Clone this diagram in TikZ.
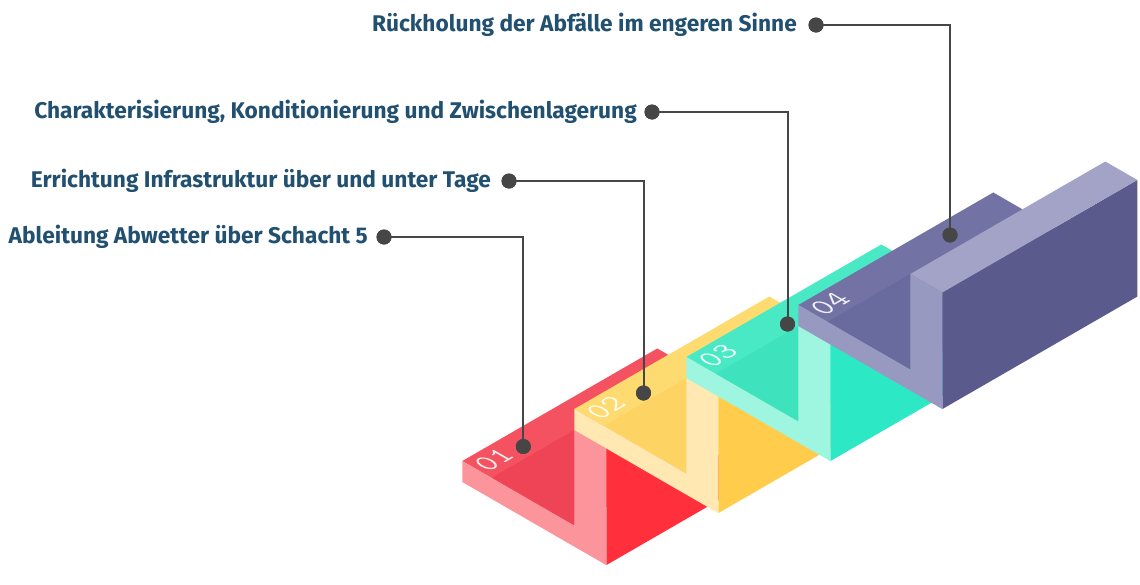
\documentclass[tikz,border=0pt]{standalone}
\usepackage{fontspec}
\setmainfont{Fira Sans}
\definecolor{lblblue}{RGB}{33,80,112}
\definecolor{dotgray}{RGB}{70,70,70}
\definecolor{rFront}{RGB}{252,148,156}
\definecolor{rTop}{RGB}{245,82,97}
\definecolor{rShade}{RGB}{239,68,86}
\definecolor{rSide}{RGB}{255,48,60}
\definecolor{rWall}{RGB}{250,110,120}
\definecolor{yFront}{RGB}{255,232,178}
\definecolor{yTop}{RGB}{254,219,112}
\definecolor{yShade}{RGB}{253,212,100}
\definecolor{ySide}{RGB}{255,205,75}
\definecolor{yWall}{RGB}{255,225,150}
\definecolor{tFront}{RGB}{158,246,224}
\definecolor{tTop}{RGB}{74,233,197}
\definecolor{tShade}{RGB}{62,227,190}
\definecolor{tSide}{RGB}{45,232,196}
\definecolor{tWall}{RGB}{130,240,215}
\definecolor{pFront}{RGB}{152,153,192}
\definecolor{pTop}{RGB}{114,115,164}
\definecolor{pShade}{RGB}{105,106,157}
\definecolor{pSide}{RGB}{90,91,140}
\definecolor{pWall}{RGB}{162,163,198}
\newcommand\isostep[7]{%
\begin{scope}[shift={(#1pt,-#2pt)}, x={(1pt,-0.577pt)}, y={(1pt,0.577pt)}, z={(0pt,1pt)}]
 \fill[#4] (0,0,21) -- (112,0,21) -- (112,195,21) -- (0,195,21) -- cycle;
 \fill[#5] (29.2,0,21) -- (112,0,21) -- (112,0,116.6) -- cycle;
 \fill[#6] (144,0,0) -- (144,195,0) -- (144,195,116.6) -- (144,0,116.6) -- cycle;
 \fill[#7] (112,0,116.6) -- (144,0,116.6) -- (144,195,116.6) -- (112,195,116.6) -- cycle;
 \fill[#3] (0,0,0) -- (144,0,0) -- (144,0,116.6) -- (112,0,116.6) -- (112,0,21) -- (0,0,21) -- cycle;
\end{scope}}
\begin{document}
\begin{tikzpicture}[x=1pt,y=-1pt,
  lbl/.style={font=\fontsize{22.7}{27}\selectfont\bfseries, text=lblblue, inner sep=0pt, anchor=mid east, yshift=-3.5pt},
  dotn/.style={circle, fill=dotgray, minimum size=15pt, inner sep=0pt},
  conn/.style={draw=dotgray, line width=2pt},
  num/.style={font=\fontsize{31}{31}\selectfont\ttfamily, text=white, text opacity=0.9, inner sep=0pt, anchor=base west, cm={0.866,0.5,-0.866,0.5,(0,0)}}]
\fill[white] (0,0) rectangle (1140,584);
\useasboundingbox (0,0) rectangle (1140,584);
\isostep{462.3}{482}{rFront}{rTop}{rShade}{rSide}{rWall}
\isostep{574.3}{430}{yFront}{yTop}{yShade}{ySide}{yWall}
\isostep{686.3}{378}{tFront}{tTop}{tShade}{tSide}{tWall}
\isostep{798.3}{326}{pFront}{pTop}{pShade}{pSide}{pWall}
\node[num] (n1) at (488,473) {01};
\node[num] (n2) at (600,421) {02};
\node[num] (n3) at (712,369) {03};
\node[num] (n4) at (824,317) {04};
% label dots
\node[dotn] (a1) at (816,25) {};
\node[dotn] (a2) at (652,112) {};
\node[dotn] (a3) at (509,181) {};
\node[dotn] (a4) at (384,237) {};
% tread dots
\node[dotn] (b1) at (950,235) {};
\node[dotn] (b2) at (787.5,324) {};
\node[dotn] (b3) at (643.5,393) {};
\node[dotn] (b4) at (523.3,446.5) {};
\draw[conn] (a1.center) -| (b1.center);
\draw[conn] (a2.center) -| (b2.center);
\draw[conn] (a3.center) -| (b3.center);
\draw[conn] (a4.center) -| (b4.center);
\node[dotn] at (a1) {};
\node[dotn] at (a2) {};
\node[dotn] at (a3) {};
\node[dotn] at (a4) {};
\node[dotn] at (b1) {};
\node[dotn] at (b2) {};
\node[dotn] at (b3) {};
\node[dotn] at (b4) {};
\node[lbl] (l1) at (797,25) {Rückholung der Abfälle im engeren Sinne};
\node[lbl] (l2) at (637,112) {Charakterisierung, Konditionierung und Zwischenlagerung};
\node[lbl] (l3) at (491,181) {Errichtung Infrastruktur über und unter Tage};
\node[lbl] (l4) at (368,237) {Ableitung Abwetter über Schacht 5};
\end{tikzpicture}
\end{document}
